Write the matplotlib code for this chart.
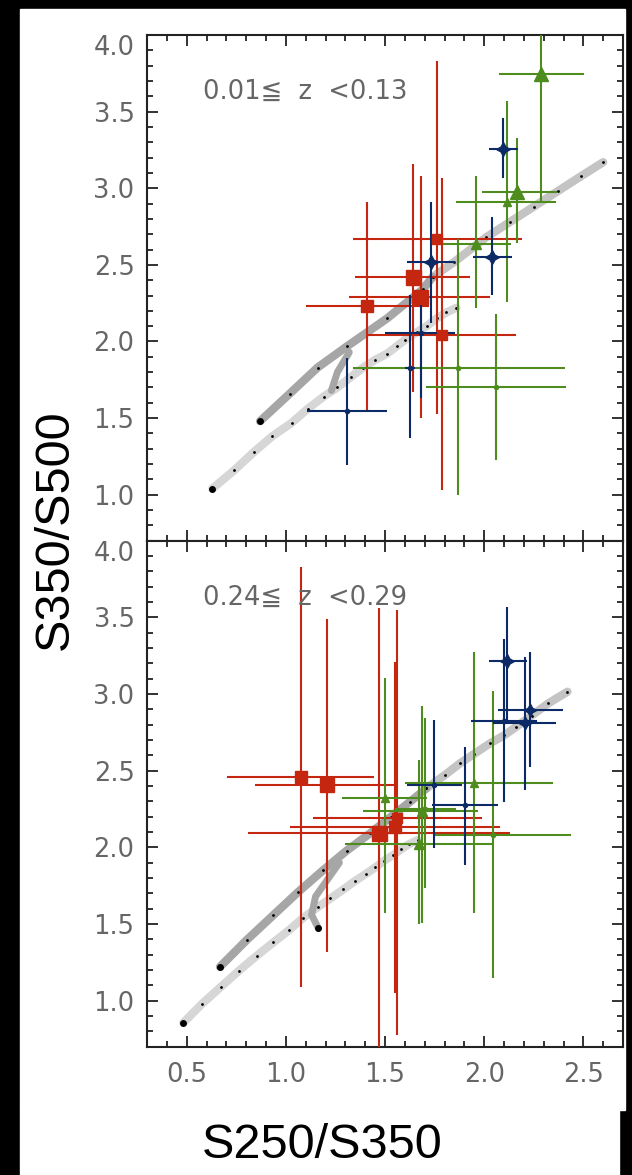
import numpy as np
import matplotlib
matplotlib.use("Agg")
import matplotlib.pyplot as plt
from matplotlib.patches import Rectangle
from matplotlib.ticker import MultipleLocator

# ---- Colour-colour data, panel 1 (0.01 <= z < 0.13) ----
red_top_x = [1.41, 1.64, 1.68, 1.76, 1.785]
red_top_y = [2.23, 2.42, 2.29, 2.67, 2.04]
red_top_xlo = [1.10, 1.35, 1.32, 1.34, 1.41]
red_top_xhi = [1.72, 1.93, 2.03, 2.19, 2.16]
red_top_ylo = [1.55, 1.67, 1.50, 1.53, 1.03]
red_top_yhi = [2.91, 3.16, 3.08, 3.83, 3.07]

blue_top_x = [2.096, 2.042, 1.730, 1.681, 1.626, 1.307]
blue_top_y = [3.254, 2.554, 2.517, 2.054, 1.830, 1.547]
blue_top_xlo = [2.025, 1.945, 1.609, 1.500, 1.600, 1.105]
blue_top_xhi = [2.171, 2.138, 1.852, 1.852, 1.650, 1.508]
blue_top_ylo = [3.065, 2.304, 2.119, 1.630, 1.369, 1.195]
blue_top_yhi = [3.457, 2.811, 2.913, 2.304, 2.304, 1.895]

green_top_x = [2.289, 2.168, 2.113, 1.958, 1.869, 2.059]
green_top_y = [3.744, 2.974, 2.913, 2.635, 1.826, 1.700]
green_top_xlo = [2.076, 1.987, 1.857, 1.785, 1.337, 1.706]
green_top_xhi = [2.503, 2.365, 2.361, 2.135, 2.407, 2.415]
green_top_ylo = [2.913, 2.641, 2.260, 2.217, 1.000, 1.228]
green_top_yhi = [4.100, 3.326, 3.572, 3.082, 2.667, 2.178]

# model tracks, panel 1
upper_top_x = [0.87, 1.02, 1.16, 1.31, 1.51, 1.69, 1.74]
upper_top_y = [1.48, 1.66, 1.83, 1.97, 2.15, 2.34, 2.42]
upper2_top_x = [1.74, 1.85, 2.01, 2.13, 2.25, 2.37, 2.49, 2.60]
upper2_top_y = [2.42, 2.52, 2.68, 2.78, 2.88, 2.98, 3.08, 3.17]
lower_top_x = [0.63, 0.74, 0.84, 0.93, 1.03, 1.11, 1.19, 1.26, 1.33, 1.39,
               1.45, 1.51, 1.56, 1.60, 1.66, 1.71, 1.76, 1.81, 1.86]
lower_top_y = [1.04, 1.16, 1.28, 1.38, 1.47, 1.56, 1.64, 1.70, 1.77, 1.83,
               1.88, 1.92, 1.97, 2.01, 2.06, 2.10, 2.15, 2.19, 2.22]
hook_top_x = [1.23, 1.26, 1.32]
hook_top_y = [1.68, 1.80, 1.93]

# ---- Colour-colour data, panel 2 (0.24 <= z < 0.29) ----
red_bot_x = [1.076, 1.206, 1.471, 1.550, 1.562]
red_bot_y = [2.461, 2.406, 2.091, 2.134, 2.189]
red_bot_xlo = [0.705, 0.844, 0.811, 1.021, 1.138]
red_bot_xhi = [1.446, 1.550, 2.129, 2.079, 1.987]
red_bot_ylo = [1.091, 1.319, 0.500, 1.048, 0.775]
red_bot_yhi = [3.830, 3.489, 3.559, 3.211, 3.548]

blue_bot_x = [2.113, 2.230, 2.206, 2.101, 1.903, 1.746]
blue_bot_y = [3.217, 2.896, 2.809, 2.824, 2.276, 2.406]
blue_bot_xlo = [2.026, 2.071, 2.045, 1.933, 1.735, 1.609]
blue_bot_xhi = [2.214, 2.399, 2.364, 2.264, 2.071, 1.886]
blue_bot_ylo = [2.830, 2.526, 2.374, 2.297, 1.884, 1.993]
blue_bot_yhi = [3.569, 3.276, 3.243, 3.357, 2.652, 2.830]

green_bot_x = [1.950, 1.500, 1.685, 1.672, 2.046, 1.700]
green_bot_y = [2.417, 2.320, 2.239, 2.021, 2.080, 2.250]
green_bot_xlo = [1.600, 1.281, 1.390, 1.298, 1.740, 1.550]
green_bot_xhi = [2.348, 1.710, 1.970, 2.046, 2.440, 1.860]
green_bot_ylo = [1.569, 1.569, 1.504, 1.500, 1.146, 1.733]
green_bot_yhi = [3.272, 3.102, 2.920, 2.570, 3.022, 2.841]

# model tracks, panel 2
upper_bot_x = [0.668, 0.802, 0.937, 1.063, 1.189, 1.306, 1.424, 1.530, 1.626, 1.709]
upper_bot_y = [1.221, 1.395, 1.558, 1.710, 1.852, 1.978, 2.091, 2.200, 2.297, 2.385]
upper2_bot_x = [1.709, 1.802, 1.878, 1.950, 2.029, 2.100, 2.162, 2.240, 2.323, 2.420]
upper2_bot_y = [2.385, 2.472, 2.548, 2.610, 2.678, 2.730, 2.787, 2.860, 2.939, 3.015]
lower_bot_x = [0.483, 0.576, 0.673, 0.764, 0.853, 0.937, 1.016, 1.088, 1.160, 1.225,
               1.290, 1.348, 1.402, 1.452, 1.496, 1.541, 1.583, 1.620, 1.664]
lower_bot_y = [0.856, 0.978, 1.091, 1.196, 1.293, 1.380, 1.460, 1.541, 1.609, 1.667,
               1.726, 1.780, 1.826, 1.870, 1.913, 1.950, 1.989, 2.020, 2.048]
hook_bot_x = [1.164, 1.130, 1.150, 1.210, 1.270]
hook_bot_y = [1.472, 1.560, 1.680, 1.790, 1.900]

panel_labels = ["0.01\u2266  z  <0.13", "0.24\u2266  z  <0.29"]
x_ticks = [0.5, 1.0, 1.5, 2.0, 2.5]
y_ticks = [1.0, 1.5, 2.0, 2.5, 3.0, 3.5, 4.0]

# ---- styling ----
RED = "#c4260f"
BLUE = "#0c2a66"
GREEN = "#4e8c1e"
DARK_TRACK = "#a6a6a6"
MID_TRACK = "#c4c4c4"
LIGHT_TRACK = "#d6d6d6"
TICK_GREY = "#666666"

# marker sizes (0 -> plain dot)
red_top_ms = [8.6, 10.8, 9.4, 7.2, 6.5]
blue_top_ms = [10, 10, 10, 0, 0, 0]
green_top_ms = [10, 10, 6, 6.5, 0, 0]
red_bot_ms = [8, 9.4, 10.8, 8, 7.2]
blue_bot_ms = [10, 9, 9, 0, 0, 0]
green_bot_ms = [6, 6, 7, 7, 0, 0]

W, H = 632, 1175


def fig_box(x0, y0, x1, y1):
    """pixel box (top-left origin) -> figure fraction rect"""
    return [x0 / W, 1 - y1 / H, (x1 - x0) / W, (y1 - y0) / H]


def draw_track(ax, x, y, color, end_dot=False):
    ax.plot(x, y, color=color, lw=6, solid_capstyle="round", zorder=1)
    ax.plot(x, y, "o", color="black", ms=2.0, mew=0, zorder=1.5)
    if end_dot:
        ax.plot(x[0], y[0], "o", color="black", ms=5, mew=0, zorder=1.6)


def draw_points(ax, x, y, xlo, xhi, ylo, yhi, color, marker, sizes):
    for i in range(len(x)):
        xe = [[x[i] - xlo[i]], [xhi[i] - x[i]]]
        ye = [[y[i] - ylo[i]], [yhi[i] - y[i]]]
        m, ms = (marker, sizes[i]) if sizes[i] > 0 else ("o", 3)
        ax.errorbar(x[i], y[i], xerr=xe, yerr=ye, fmt="", marker=m,
                    linestyle="none", ms=ms, color=color, mec=color,
                    mfc=color, elinewidth=1.5, capsize=0, zorder=3)


fig = plt.figure(figsize=(W / 100, H / 100), dpi=100, facecolor="black")

# white page and the label strip underneath
fig.add_artist(Rectangle((20 / W, 1 - 1110 / H), 605 / W, 1101 / H,
                         transform=fig.transFigure, color="white", zorder=-10))
fig.add_artist(Rectangle((20 / W, 0), 599 / W, 65 / H,
                         transform=fig.transFigure, color="white", zorder=5))

ax_top = fig.add_axes(fig_box(147, 35, 623, 540.7))
ax_bot = fig.add_axes(fig_box(147, 540.7, 623, 1046.7))

# panel 1
draw_track(ax_top, lower_top_x, lower_top_y, LIGHT_TRACK, end_dot=True)
draw_track(ax_top, upper2_top_x, upper2_top_y, MID_TRACK)
draw_track(ax_top, upper_top_x, upper_top_y, DARK_TRACK, end_dot=True)
ax_top.plot(hook_top_x, hook_top_y, color=DARK_TRACK, lw=5,
            solid_capstyle="round", zorder=1.2)
draw_points(ax_top, red_top_x, red_top_y, red_top_xlo, red_top_xhi,
            red_top_ylo, red_top_yhi, RED, "s", red_top_ms)
draw_points(ax_top, green_top_x, green_top_y, green_top_xlo, green_top_xhi,
            green_top_ylo, green_top_yhi, GREEN, "^", green_top_ms)
draw_points(ax_top, blue_top_x, blue_top_y, blue_top_xlo, blue_top_xhi,
            blue_top_ylo, blue_top_yhi, BLUE, (4, 1, 0), blue_top_ms)

# panel 2
draw_track(ax_bot, lower_bot_x, lower_bot_y, LIGHT_TRACK, end_dot=True)
draw_track(ax_bot, upper2_bot_x, upper2_bot_y, MID_TRACK)
draw_track(ax_bot, upper_bot_x, upper_bot_y, DARK_TRACK, end_dot=True)
ax_bot.plot(hook_bot_x, hook_bot_y, color=DARK_TRACK, lw=5,
            solid_capstyle="round", zorder=1.2)
ax_bot.plot(hook_bot_x[0], hook_bot_y[0], "o", color="black", ms=5, mew=0, zorder=1.6)
draw_points(ax_bot, red_bot_x, red_bot_y, red_bot_xlo, red_bot_xhi,
            red_bot_ylo, red_bot_yhi, RED, "s", red_bot_ms)
draw_points(ax_bot, green_bot_x, green_bot_y, green_bot_xlo, green_bot_xhi,
            green_bot_ylo, green_bot_yhi, GREEN, "^", green_bot_ms)
draw_points(ax_bot, blue_bot_x, blue_bot_y, blue_bot_xlo, blue_bot_xhi,
            blue_bot_ylo, blue_bot_yhi, BLUE, (4, 1, 0), blue_bot_ms)

for ax, label in zip([ax_top, ax_bot], panel_labels):
    ax.set_xlim(0.3, 2.7)
    ax.set_ylim(0.7, 4.0)
    ax.set_xticks(x_ticks)
    ax.set_yticks(y_ticks)
    ax.xaxis.set_minor_locator(MultipleLocator(0.1))
    ax.yaxis.set_minor_locator(MultipleLocator(0.1))
    ax.tick_params(which="both", direction="in", top=True, right=True,
                   color="#222222", width=1.3)
    ax.tick_params(which="major", length=8)
    ax.tick_params(which="minor", length=4)
    ax.tick_params(axis="y", pad=9, labelsize=18.5, labelcolor=TICK_GREY)
    ax.tick_params(axis="x", pad=11, labelsize=18.5, labelcolor=TICK_GREY)
    ax.set_yticklabels([f"{v:.1f}" for v in y_ticks])
    # the topmost label hangs below the frame edge
    ax.get_yticklabels()[-1].set_verticalalignment("top")
    for sp in ax.spines.values():
        sp.set_linewidth(1.5)
        sp.set_color("#222222")
    ax.text(0.118, 0.887, label, transform=ax.transAxes, ha="left",
            va="center", fontsize=18.5, color=TICK_GREY)

ax_top.tick_params(axis="x", labelbottom=False)
ax_bot.set_xticklabels([f"{v:.1f}" for v in x_ticks])

fig.text(322 / W, 1 - 1145 / H, "S250/S350", fontsize=35, color="black",
         family="Liberation Sans", ha="center", va="center", zorder=6)
fig.text(55 / W, 1 - 530 / H, "S350/S500", fontsize=35, color="black",
         family="Liberation Sans", rotation=90, ha="center", va="center", zorder=6)

fig.savefig("out.png", dpi=100, facecolor="black")
